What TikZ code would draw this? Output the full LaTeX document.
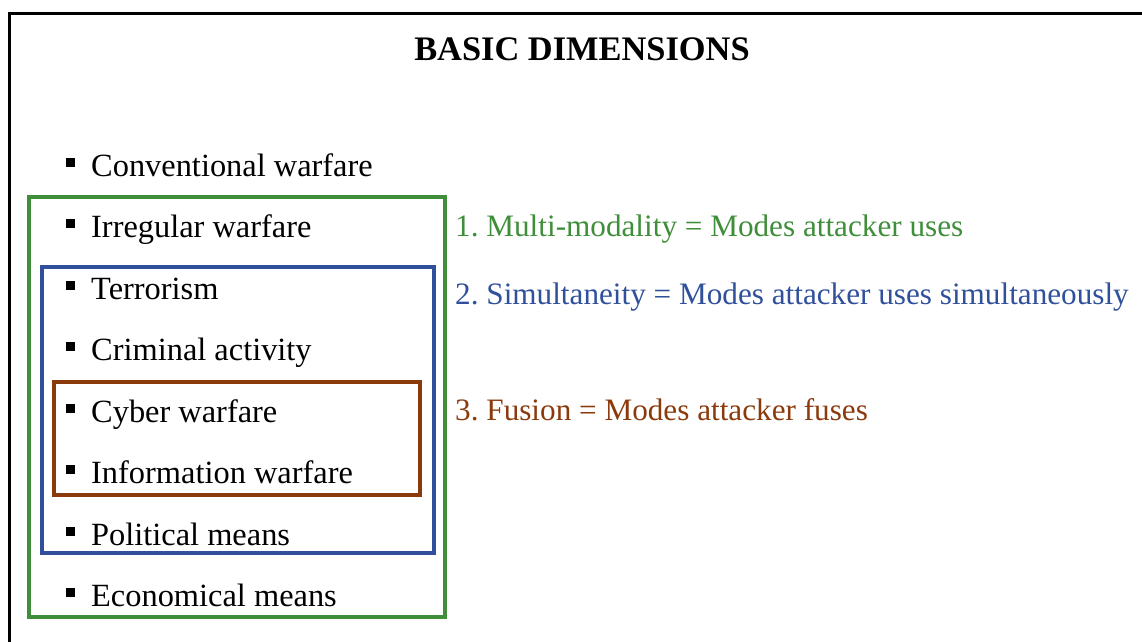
\documentclass[tikz,border=0pt]{standalone}
\usepackage{fontspec}
\setmainfont{Liberation Serif}
\frenchspacing
\definecolor{modgreen}{HTML}{3F8E3A}
\definecolor{modblue}{HTML}{30509C}
\definecolor{modbrown}{HTML}{8B3A0C}
\newcommand\sqbul{\rule[9.5pt]{9pt}{9pt}\hspace{16pt}}
\begin{document}
\begin{tikzpicture}[x=1pt,y=-1pt,
  item/.style={anchor=base west,inner sep=0pt,font=\fontsize{32.4}{38}\selectfont},
  note/.style={anchor=base west,inner sep=0pt,font=\fontsize{31.2}{36}\selectfont},
  frame/.style={line width=3pt,black},
  groupbox/.style={line width=4pt}]
\useasboundingbox (0,0) rectangle (1142,641);
% outer frame (runs past the right and bottom edges)
\draw[frame] (9,645) -- (9,13.5) -- (1146,13.5);
% heading
\node[anchor=base,inner sep=0pt,font=\fontsize{34.4}{40}\selectfont\bfseries] (title) at (582,60) {BASIC DIMENSIONS};
% list of modes
\node[item] (i1) at (66,176) {\sqbul Conventional warfare};
\node[item] (i2) at (66,237.5) {\sqbul Irregular warfare};
\node[item] (i3) at (66,299) {\sqbul Terrorism};
\node[item] (i4) at (66,360.5) {\sqbul Criminal activity};
\node[item] (i5) at (66,422) {\sqbul Cyber warfare};
\node[item] (i6) at (66,483.5) {\sqbul Information warfare};
\node[item] (i7) at (66,545) {\sqbul Political means};
\node[item] (i8) at (66,606.5) {\sqbul Economical means};
% nested groupings
\draw[groupbox,modgreen] (29,197) rectangle (445,617);
\draw[groupbox,modblue] (42,267) rectangle (434,553);
\draw[groupbox,modbrown] (54,382) rectangle (420,495);
% definitions
\node[note,text=modgreen] (d1) at (455,236) {1. Multi-modality = Modes attacker uses};
\node[note,text=modblue] (d2) at (455,304) {2. Simultaneity = Modes attacker uses simultaneously};
\node[note,text=modbrown] (d3) at (455,420) {3. Fusion = Modes attacker fuses};
\end{tikzpicture}
\end{document}
